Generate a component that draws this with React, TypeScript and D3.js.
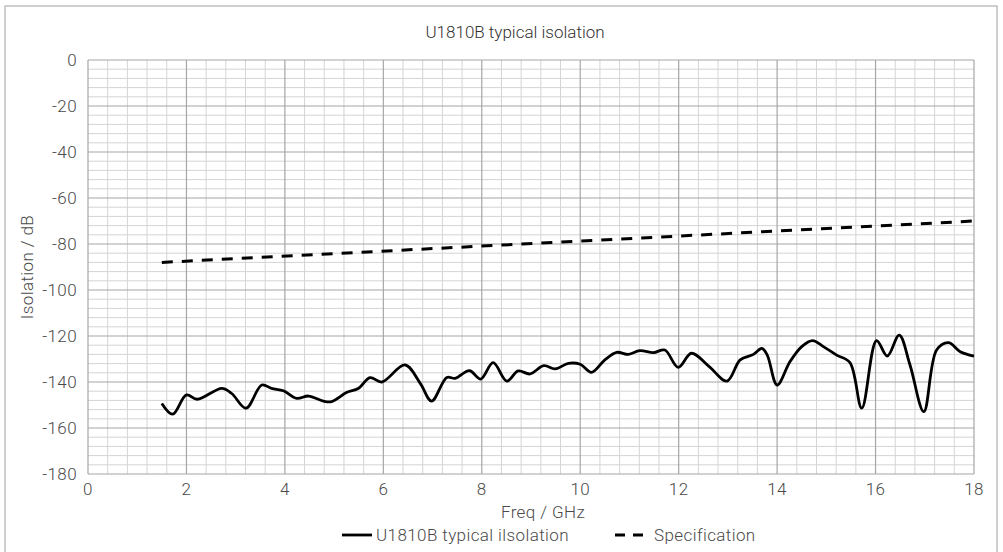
import React from "react";
import * as d3 from "d3";

const freqGHz = [1.5, 1.72, 2.0, 2.22, 2.72, 2.92, 3.21, 3.53, 3.73, 3.97, 4.24, 4.48, 4.78, 4.95, 5.26, 5.49, 5.73, 5.97, 6.44, 6.75, 6.98, 7.29, 7.46, 7.75, 7.98, 8.23, 8.51, 8.74, 8.98, 9.26, 9.49, 9.76, 10.0, 10.23, 10.5, 10.74, 10.98, 11.21, 11.49, 11.72, 11.99, 12.26, 12.62, 12.98, 13.25, 13.52, 13.69, 13.8, 14.0, 14.26, 14.5, 14.72, 14.94, 15.21, 15.48, 15.72, 16.02, 16.24, 16.48, 16.7, 16.98, 17.24, 17.48, 17.72, 18.0];
const isolationDb = [-149.3, -154, -145.6, -147.5, -142.8, -145, -151.4, -141.3, -142.8, -143.8, -147.1, -146.1, -148.3, -148.5, -144.5, -142.8, -138.1, -140, -132.6, -140.6, -148.3, -138, -138.4, -135.1, -138.7, -131.6, -139.6, -135.2, -136.5, -132.9, -134.3, -131.9, -132.3, -135.8, -130.4, -127.1, -128, -126.4, -127.2, -126.1, -133.6, -127.5, -133.3, -139.6, -130.4, -128, -125.4, -128.3, -141.3, -131.2, -124.6, -122, -124.6, -128.3, -131.6, -151.4, -122, -128.7, -119.6, -132.6, -152.9, -126.1, -122.9, -126.8, -128.7];
const specFreqGHz = [1.5, 18];
const specDb = [-88, -70];
const xTicks = [0, 2, 4, 6, 8, 10, 12, 14, 16, 18];
const yTicks = [0, -20, -40, -60, -80, -100, -120, -140, -160, -180];
const title = "U1810B typical isolation";
const xTitle = "Freq / GHz";
const yTitle = "Isolation / dB";
const seriesNames = ["U1810B typical ilsolation", "Specification"];

export default function App() {
  const W = 1003, H = 552;
  const L = 88, R = 974, T = 60, B = 474;
  const x = d3.scaleLinear().domain([0, 18]).range([L, R]);
  const y = d3.scaleLinear().domain([-180, 0]).range([B, T]);
  const minorX = d3.range(0, 18.001, 0.4).filter((v) => Math.abs(v / 2 - Math.round(v / 2)) > 1e-6);
  const minorY = d3.range(-180, 0.001, 4).filter((v) => v % 20 !== 0);
  const line = d3.line<[number, number]>().x((d) => x(d[0])).y((d) => y(d[1])).curve(d3.curveCatmullRom.alpha(0.5));
  const meas = freqGHz.map((f, i) => [f, isolationDb[i]] as [number, number]);
  const spec = specFreqGHz.map((f, i) => [f, specDb[i]] as [number, number]);
  const font = "Roboto, 'Noto Sans', sans-serif";
  const grey = "#4a4a4a";
  const fs = 17;
  const ls = 0.4;
  return (
    <svg width={W} height={H} style={{ position: "absolute", left: 0, top: 0 }} fontFamily={font}>
      <rect x={0} y={0} width={W} height={H} fill="#fff" />
      <rect x={5} y={6} width={992} height={570} fill="none" stroke="#b0b0b0" strokeWidth={1.2} />
      <text x={515} y={38} textAnchor="middle" fontSize={17} fontWeight={300} fill="#333">{title}</text>
      {minorX.map((v) => (
        <line key={"mx" + v} x1={x(v)} x2={x(v)} y1={T} y2={B} stroke="#d4d4d4" strokeWidth={1} />
      ))}
      {minorY.map((v) => (
        <line key={"my" + v} x1={L} x2={R} y1={y(v)} y2={y(v)} stroke="#d4d4d4" strokeWidth={1} />
      ))}
      {xTicks.map((v) => (
        <line key={"gx" + v} x1={x(v)} x2={x(v)} y1={T} y2={B} stroke="#a6a6a6" strokeWidth={1.2} />
      ))}
      {yTicks.map((v) => (
        <line key={"gy" + v} x1={L} x2={R} y1={y(v)} y2={y(v)} stroke="#a6a6a6" strokeWidth={1.2} />
      ))}
      {xTicks.map((v) => (
        <text key={"tx" + v} x={x(v)} y={B + 21} textAnchor="middle" fontSize={fs} fontWeight={300} letterSpacing={ls} fill={grey}>{v}</text>
      ))}
      {yTicks.map((v) => (
        <text key={"ty" + v} x={77} y={y(v) + 6} textAnchor="end" fontSize={fs} fontWeight={300} letterSpacing={ls} fill={grey}>{v}</text>
      ))}
      <text x={543} y={518} textAnchor="middle" fontSize={fs} fontWeight={300} letterSpacing={ls} fill={grey}>{xTitle}</text>
      <text transform={`translate(33,${(T + B) / 2}) rotate(-90)`} textAnchor="middle" fontSize={fs} fontWeight={300} letterSpacing={ls} fill={grey}>{yTitle}</text>
      <path d={line(spec) || ""} fill="none" stroke="#000" strokeWidth={3} strokeDasharray="11,9" />
      <path d={line(meas) || ""} fill="none" stroke="#000" strokeWidth={2.8} strokeLinejoin="round" />
      <line x1={342} x2={372} y1={535} y2={535} stroke="#000" strokeWidth={2.8} />
      <text x={376} y={541} fontSize={fs} fontWeight={300} letterSpacing={ls} fill={grey}>{seriesNames[0]}</text>
      <line x1={615} x2={646} y1={535} y2={535} stroke="#000" strokeWidth={2.8} strokeDasharray="10,8" />
      <text x={654} y={541} fontSize={fs} fontWeight={300} letterSpacing={ls} fill={grey}>{seriesNames[1]}</text>
    </svg>
  );
}
